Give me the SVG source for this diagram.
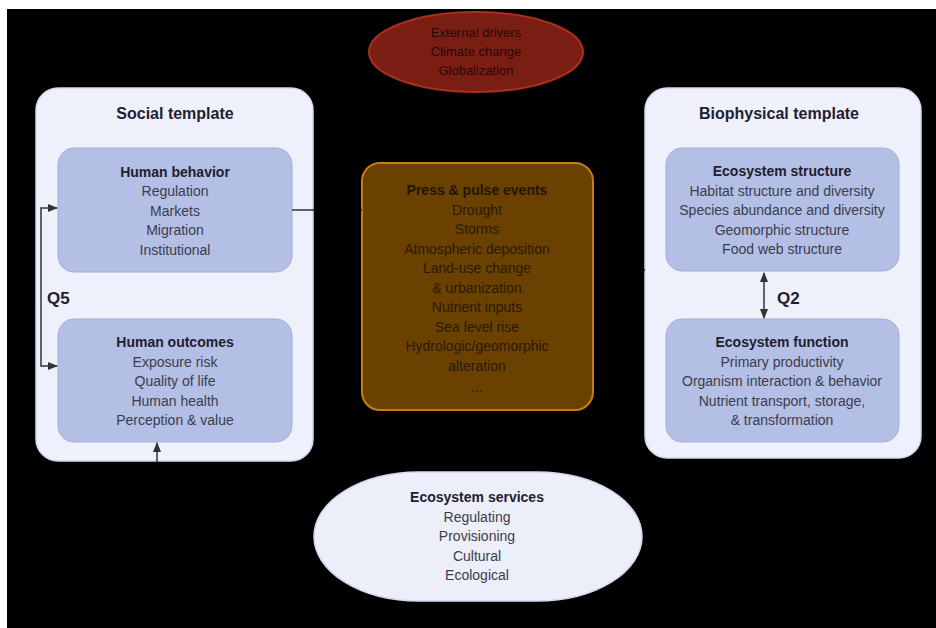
<svg xmlns="http://www.w3.org/2000/svg" width="936" height="628" viewBox="0 0 936 628">
<defs>
<style>
text{font-family:"Liberation Sans",Arial,sans-serif;text-anchor:middle}
.h{font-weight:bold;font-size:14px;fill:#1e2030}
.i{font-size:14px;fill:#3a3d4c}
.t{font-weight:bold;font-size:16px;fill:#1e2030}
.q{font-weight:bold;font-size:17px;fill:#1e2030;text-anchor:start}
.tmpl{fill:#eef0fb;stroke:#d4d8ee;stroke-width:1.5}
.box{fill:#b3bfe5;stroke:#a3aed8;stroke-width:1}
.p{font-size:14px;fill:#2a1a00}
.ph{font-weight:bold;font-size:14px;fill:#241500}
.e{font-size:13px;fill:#2a0805}
.c{fill:none;stroke:#333;stroke-width:1.5}
.cd{fill:none;stroke:#000;stroke-width:1.5}
</style>
<marker id="ah" viewBox="0 0 10 10" refX="9" refY="5" markerWidth="7" markerHeight="7" orient="auto-start-reverse">
<path d="M0,1 L10,5 L0,9 z" fill="#333"/>
</marker>
</defs>
<rect width="936" height="628" fill="#ffffff"/>
<rect x="7" y="9" width="929" height="619" fill="#000000"/>

<g id="social-template">
<rect class="tmpl" x="36" y="88" width="277" height="373" rx="22"/>
<text class="t" x="175" y="119">Social template</text>
</g>
<g id="human-behavior">
<rect class="box" x="58" y="148" width="234" height="124" rx="16"/>
<text class="h" x="175" y="177">Human behavior</text>
<text class="i" x="175" y="196">Regulation</text>
<text class="i" x="175" y="215.5">Markets</text>
<text class="i" x="175" y="235">Migration</text>
<text class="i" x="175" y="254.5">Institutional</text>
</g>
<g id="human-outcomes">
<rect class="box" x="58" y="319" width="234" height="123" rx="16"/>
<text class="h" x="175" y="347">Human outcomes</text>
<text class="i" x="175" y="366.5">Exposure risk</text>
<text class="i" x="175" y="386">Quality of life</text>
<text class="i" x="175" y="405.5">Human health</text>
<text class="i" x="175" y="425">Perception &amp; value</text>
</g>

<g id="biophysical-template">
<rect class="tmpl" x="645" y="88" width="276" height="370" rx="22"/>
<text class="t" x="779" y="119">Biophysical template</text>
</g>
<g id="ecosystem-structure">
<rect class="box" x="666" y="148" width="233" height="123" rx="16"/>
<text class="h" x="782" y="176">Ecosystem structure</text>
<text class="i" x="782" y="195.5">Habitat structure and diversity</text>
<text class="i" x="782" y="215">Species abundance and diversity</text>
<text class="i" x="782" y="234.5">Geomorphic structure</text>
<text class="i" x="782" y="254">Food web structure</text>
</g>
<g id="ecosystem-function">
<rect class="box" x="666" y="319" width="233" height="123" rx="16"/>
<text class="h" x="782" y="347">Ecosystem function</text>
<text class="i" x="782" y="366.5">Primary productivity</text>
<text class="i" x="782" y="386">Organism interaction &amp; behavior</text>
<text class="i" x="782" y="405.5">Nutrient transport, storage,</text>
<text class="i" x="782" y="425">&amp; transformation</text>
</g>

<g id="external-drivers">
<ellipse cx="476" cy="52" rx="107" ry="40" fill="#7a1d12" stroke="#a8301f" stroke-width="2"/>
<text class="e" x="476" y="37">External drivers</text>
<text class="e" x="476" y="56">Climate change</text>
<text class="e" x="476" y="75">Globalization</text>
</g>

<g id="press-pulse-events">
<rect x="362" y="163" width="231" height="247" rx="18" fill="#6a4100" stroke="#c47e12" stroke-width="2"/>
<text class="ph" x="477" y="195">Press &amp; pulse events</text>
<text class="p" x="477" y="214.5">Drought</text>
<text class="p" x="477" y="234">Storms</text>
<text class="p" x="477" y="253.5">Atmospheric deposition</text>
<text class="p" x="477" y="273">Land-use change</text>
<text class="p" x="477" y="292.5">&amp; urbanization</text>
<text class="p" x="477" y="312">Nutrient inputs</text>
<text class="p" x="477" y="331.5">Sea level rise</text>
<text class="p" x="477" y="351">Hydrologic/geomorphic</text>
<text class="p" x="477" y="370.5">alteration</text>
<text class="p" x="477" y="392">...</text>
</g>

<g id="ecosystem-services">
<rect x="314" y="472" width="328" height="129" rx="105" ry="64.5" fill="#eceef9" stroke="#d4d8ee" stroke-width="1.5"/>
<text class="h" x="477" y="502">Ecosystem services</text>
<text class="i" x="477" y="521.5">Regulating</text>
<text class="i" x="477" y="541">Provisioning</text>
<text class="i" x="477" y="560.5">Cultural</text>
<text class="i" x="477" y="580">Ecological</text>
</g>

<g id="connectors">
<path class="c" d="M57,208 H41 V366 H57" marker-start="url(#ah)" marker-end="url(#ah)"/>
<line class="c" x1="764" y1="273" x2="764" y2="318" marker-start="url(#ah)" marker-end="url(#ah)"/>
<line class="c" x1="292" y1="210" x2="313" y2="210"/>
<line class="cd" x1="313" y1="210" x2="362" y2="210"/>
<line class="c" x1="157" y1="462" x2="157" y2="443" marker-end="url(#ah)"/>
<line class="cd" x1="476" y1="93" x2="476" y2="162"/>
<line class="cd" x1="594" y1="270" x2="645" y2="270"/>
<text class="q" x="47" y="304">Q5</text>
<text class="q" x="777" y="304">Q2</text>
</g>
</svg>
